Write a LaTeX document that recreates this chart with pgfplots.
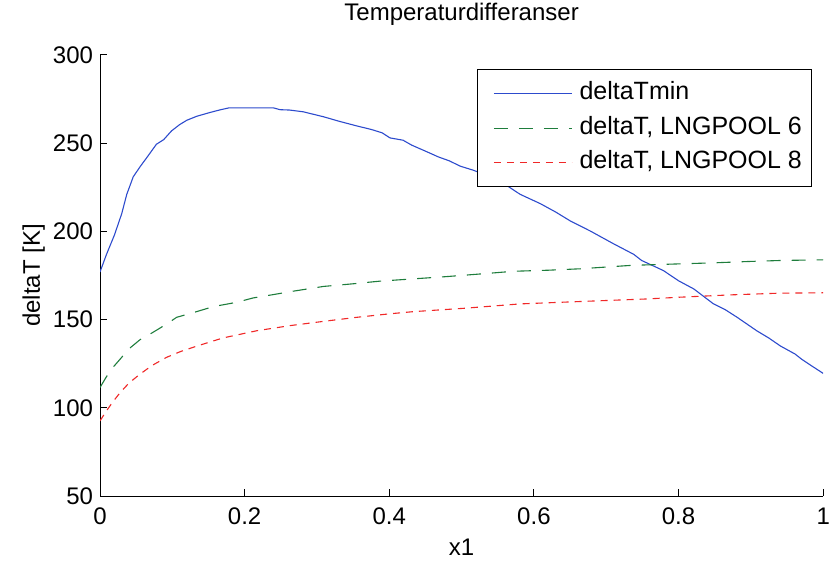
\documentclass[border=0pt]{standalone}
\usepackage{fontspec}
\setmainfont{Liberation Sans}
\usepackage{pgfplots}
\pgfplotsset{compat=1.18}
\definecolor{mblue}{RGB}{45,75,205}
\definecolor{mgreen}{RGB}{30,125,60}
\definecolor{mred}{RGB}{240,40,40}
\newcommand{\ff}{\fontsize{12bp}{14bp}\selectfont}
\newcommand{\fl}{\fontsize{12.5bp}{14bp}\selectfont}
\begin{document}
\begin{tikzpicture}
\path[use as bounding box] (0,0) rectangle (415.5bp,280.5bp);
\begin{axis}[
  at={(50bp,32.5bp)}, anchor=south west,
  scale only axis, width=361.6bp, height=220.5bp,
  xmin=0, xmax=1, ymin=50, ymax=300,
  xtick={0,0.2,0.4,0.6,0.8,1},
  ytick={50,100,150,200,250,300},
  axis lines*=left,
  axis line style={black, line width=0.5bp},
  tick style={black, line width=0.5bp},
  tick align=inside, major tick length=3.5bp,
  /pgf/number format/assume math mode=true,
  /pgf/number format/fixed,
  tick label style={font=\ff},
  xticklabel style={yshift=-2.5bp},
  title={Temperaturdifferanser},
  title style={font=\ff, at={(axis description cs:0.5,1.05)}, anchor=base},
  xlabel={x1},
  xlabel style={font=\ff, at={(axis description cs:0.5,-0.1338)}, anchor=base},
  ylabel={deltaT [K]},
  ylabel style={font=\ff, at={(axis description cs:-0.083,0.5)}, anchor=base},
  legend style={font=\fl, at={(axis description cs:0.985,0.968)}, anchor=north east,
    draw=black, line width=0.5bp, fill=white, inner xsep=5bp, inner ysep=4.5bp,
    nodes={inner xsep=0bp, inner ysep=1.5bp, text height=9bp, text depth=3bp}, row sep=2.25bp,
    cells={anchor=west}},
  legend image code/.code={\path (0bp,0bp) (45.5bp,0bp); \draw[#1] (3bp,0bp) -- (42bp,0bp);},
  every axis plot/.append style={line width=0.55bp},
]
\addplot[mblue, solid] coordinates {
(0,177) (0.009,187) (0.02,198) (0.030,210) (0.037,221) (0.046,231) (0.056,237)
(0.065,242) (0.078,249.4) (0.088,252) (0.099,257) (0.11,260.5) (0.12,263)
(0.134,265.3) (0.152,267.4) (0.165,268.8) (0.178,270) (0.2,270) (0.22,270)
(0.240,270) (0.249,269) (0.262,268.8) (0.281,267.8) (0.309,265) (0.33,262.5)
(0.355,259.8) (0.375,257.8) (0.390,255.9) (0.401,253) (0.419,251.7) (0.431,248.9)
(0.45,245.5) (0.468,242.2) (0.483,240) (0.498,237) (0.516,234.7) (0.54,231)
(0.5625,226) (0.581,221) (0.609,215.7) (0.63,211) (0.650,206) (0.678,200.2)
(0.710,193) (0.738,187) (0.749,183.5) (0.779,177.8) (0.80,172) (0.821,167.4)
(0.848,159) (0.865,155.5) (0.881,151.3) (0.908,143.7) (0.925,139.5) (0.941,135)
(0.961,130.5) (0.970,127.6) (0.985,123.5) (1.0,119.5)
};
\addlegendentry{deltaTmin}
\addplot[mgreen, dash pattern=on 7bp off 5.5bp] coordinates {
(0.0,111.5) (0.008,117) (0.016,122) (0.030,128.6) (0.037,132.4) (0.055,138.5)
(0.068,141.5) (0.081,144.7) (0.094,148) (0.106,151.3) (0.131,154.2) (0.157,157.4)
(0.189,159.8) (0.212,162.3) (0.240,164.2) (0.267,166.1) (0.309,168.8) (0.350,170.3)
(0.387,171.8) (0.43,173) (0.48,174.4) (0.53,176) (0.572,177.4) (0.62,178)
(0.664,178.8) (0.70,179.8) (0.733,180.7) (0.77,181.2) (0.802,181.6) (0.85,182.2)
(0.894,182.9) (0.94,183.5) (1.0,183.9)
};
\addlegendentry{deltaT, LNGPOOL 6}
\addplot[mred, dash pattern=on 3.5bp off 3bp] coordinates {
(0.0,92.6) (0.009,98.3) (0.018,103.5) (0.028,108.7) (0.04,114) (0.055,119)
(0.072,124) (0.092,128.6) (0.112,132) (0.134,135) (0.17,139.6) (0.217,143.7)
(0.263,146.6) (0.309,149) (0.355,151.3) (0.401,153.3) (0.433,154.5) (0.503,156.4)
(0.581,158.9) (0.673,160.4) (0.756,161.7) (0.802,162.7) (0.871,164) (0.941,165)
(1.0,165.2)
};
\addlegendentry{deltaT, LNGPOOL 8}
\end{axis}
\end{tikzpicture}
\end{document}
